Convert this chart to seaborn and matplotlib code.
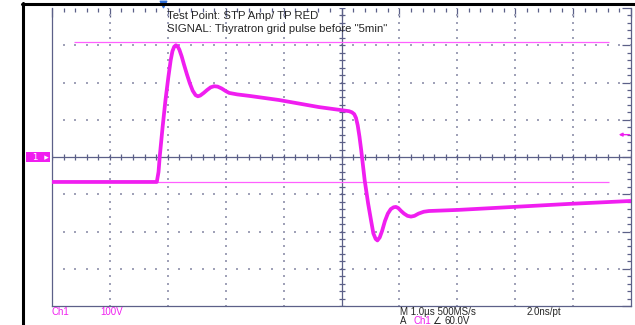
import numpy as np
import pandas as pd
import matplotlib.pyplot as plt
from matplotlib.lines import Line2D
from matplotlib.ticker import MultipleLocator
import seaborn as sns

# scope capture, 1 us/div and 100 V/div
time_us = [0.0, 0.8, 1.81, 1.84, 1.86, 1.91, 1.96, 2.01, 2.05, 2.08, 2.11, 2.14,
           2.17, 2.20, 2.24, 2.28, 2.33, 2.38, 2.43, 2.48, 2.52, 2.56, 2.62,
           2.68, 2.74, 2.80, 2.86, 2.93, 3.00, 3.06, 3.20, 3.41, 3.92, 4.61,
           5.13, 5.18, 5.22, 5.25, 5.28, 5.31, 5.34, 5.40, 5.46, 5.51, 5.55,
           5.59, 5.62, 5.66, 5.70, 5.75, 5.80, 5.85, 5.90, 5.94, 5.98, 6.03,
           6.08, 6.14, 6.20, 6.26, 6.33, 6.42, 6.51, 7.02, 7.97, 8.92, 10.0]
volts = [-67, -67, -67, -40, 0, 80, 153, 215, 260, 284, 296, 300,
         297, 288, 270, 248, 222, 198, 178, 166, 163, 165, 172,
         180, 187, 190, 189, 184, 177, 172, 168, 164, 153, 134,
         123, 120, 115, 105, 85, 55, 19, -62, -125, -170, -205,
         -220, -224, -216, -199, -172, -152, -140, -135, -134, -137, -145,
         -152, -158, -160, -158, -152, -147, -145, -142, -134, -126, -118]

cursor_levels_v = [309, -67]
cursor_span_us = [0.38, 9.62]
trigger_level_v = 60
trigger_pos_us = 1.91

header_lines = ["Test Point: STP Amp/ TP RED",
                'SIGNAL: Thyratron grid pulse before "5min"']

MAGENTA = "#f01ef0"
CURSOR = "#ff60ff"
GRAT = "#5c6088"
DOT = "#a0a2b8"
W, H = 635, 325

sns.set_style("white")
plt.rcParams["font.family"] = ["Liberation Sans", "DejaVu Sans"]

fig = plt.figure(figsize=(W / 100, H / 100), dpi=100)
ax = fig.add_axes([52 / W, 1 - 306 / H, (631 - 52) / W, (306 - 8) / H])
ax.set_xlim(0, 10)
ax.set_ylim(-400, 400)

# dotted graticule
xs = np.arange(0, 10.01, 0.2)
ys = np.arange(-400, 401, 20)
for gx in [1, 2, 3, 4, 6, 7, 8, 9]:
    ax.scatter(np.full(len(ys), gx), ys, marker="s", s=1.0, color=DOT, linewidths=0)
for gy in [-300, -200, -100, 100, 200, 300]:
    ax.scatter(xs, np.full(len(xs), gy), marker="s", s=1.0, color=DOT, linewidths=0)

# centre axes with small ticks
ax.axhline(0, color=GRAT, lw=0.9)
ax.axvline(5, color=GRAT, lw=0.9)
ax.scatter(xs, np.zeros(len(xs)), marker="|", s=22, color=GRAT, linewidths=0.9)
ax.scatter(np.full(len(ys), 5), ys, marker="_", s=22, color=GRAT, linewidths=0.9)

ax.xaxis.set_major_locator(MultipleLocator(1))
ax.xaxis.set_minor_locator(MultipleLocator(0.2))
ax.yaxis.set_major_locator(MultipleLocator(100))
ax.yaxis.set_minor_locator(MultipleLocator(20))
ax.tick_params(which="both", direction="in", top=True, right=True,
               labelbottom=False, labelleft=False, color=GRAT, width=0.9)
ax.tick_params(which="major", length=6.5)
ax.tick_params(which="minor", length=3)
for side in ["left", "bottom", "right"]:
    ax.spines[side].set_color(GRAT)
    ax.spines[side].set_linewidth(0.9)
ax.spines["top"].set_visible(False)

# cursors and trace
ax.hlines(cursor_levels_v, cursor_span_us[0], cursor_span_us[1], color=CURSOR, lw=0.9, zorder=3)
df = pd.DataFrame({"t": time_us, "v": volts})
sns.lineplot(data=df, x="t", y="v", sort=False, estimator=None, color=MAGENTA,
             lw=2.7, ax=ax, zorder=4)
ax.set_xlabel("")
ax.set_ylabel("")

# trigger level arrow, trigger position, ground marker
ax.annotate("", xy=(9.74, trigger_level_v), xytext=(10.02, trigger_level_v),
            arrowprops=dict(arrowstyle="-|>", color=MAGENTA, lw=1, mutation_scale=5),
            annotation_clip=False)
ax.scatter([trigger_pos_us], [412], marker="v", s=22, color="#2f6fd8", clip_on=False, zorder=5)
ax.text(-0.24, 0, "  1  \u25b8", color="white", fontsize=6.5, ha="center", va="center",
        family=["DejaVu Sans"], clip_on=False,
        bbox=dict(boxstyle="square,pad=0.1", fc=MAGENTA, ec="none"))

# screen border
fig.add_artist(Line2D([22.5 / W, 22.5 / W], [0, 1 - 3 / H], color="black", lw=2.2))
fig.add_artist(Line2D([22 / W, 1], [1 - 3.5 / H, 1 - 3.5 / H], color="black", lw=2.2))

fig.text(167 / W, 1 - 16 / H, header_lines[0], fontsize=8.2, va="center")
fig.text(167 / W, 1 - 28.5 / H, header_lines[1], fontsize=8.2, va="center")

fs = 7
fig.text(52 / W, 1 - 312 / H, "Ch1", fontsize=fs, color=MAGENTA, va="center")
fig.text(100 / W, 1 - 312 / H, "100V", fontsize=fs, color=MAGENTA, va="center")
fig.text(400 / W, 1 - 312 / H, "M 1.0\u00b5s 500MS/s", fontsize=fs, va="center")
fig.text(527 / W, 1 - 312 / H, "2.0ns/pt", fontsize=fs, va="center")
fig.text(400 / W, 1 - 320.5 / H, "A", fontsize=fs, va="center")
fig.text(413 / W, 1 - 320.5 / H, "Ch1", fontsize=fs, color=MAGENTA, va="center")
fig.text(432 / W, 1 - 320.5 / H, "\u2220", fontsize=fs, va="center", family=["DejaVu Sans"])
fig.text(444 / W, 1 - 320.5 / H, "60.0V", fontsize=fs, va="center")

fig.savefig("out.png", dpi=100)
